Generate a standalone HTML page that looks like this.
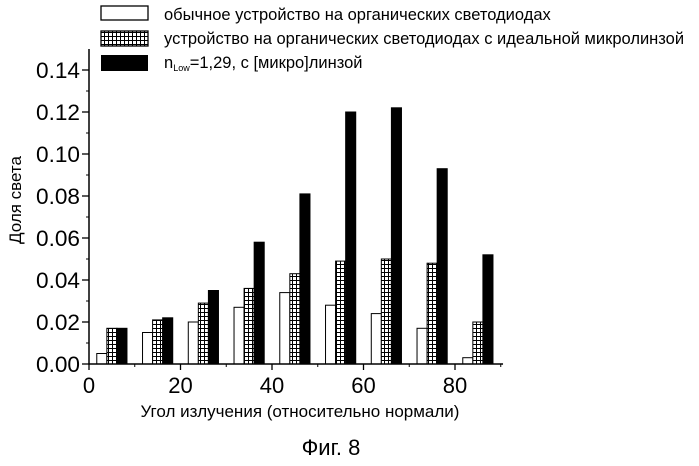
<!DOCTYPE html>
<html><head><meta charset="utf-8"><style>
body{margin:0;background:#fff;}
svg text{font-family:"Liberation Sans",sans-serif;fill:#000;}
</style></head><body>
<svg width="699" height="461" viewBox="0 0 699 461">
<defs>
<pattern id="grid" width="4" height="4" patternUnits="userSpaceOnUse">
<rect width="4" height="4" fill="#fff"/>
<path d="M0 0.5H4M0.5 0V4" stroke="#000" stroke-width="1"/>
</pattern>
</defs>
<g id="chart"></g>
<g>
<rect x="101" y="6" width="47" height="14" fill="#fff" stroke="#000" stroke-width="1.3"/>
<text x="164" y="20" font-size="16.5">обычное устройство на органических светодиодах</text>
<rect x="101" y="31" width="47" height="15" fill="url(#grid)" stroke="#000" stroke-width="1.3"/>
<text x="164" y="44" font-size="16.5">устройство на органических светодиодах с идеальной микролинзой</text>
<rect x="101" y="55" width="47" height="16" fill="#000"/>
<text x="164" y="68" font-size="16.5">n<tspan font-size="9" dy="3">Low</tspan><tspan dy="-3">=1,29, с [микро]линзой</tspan></text>
</g>
<text transform="translate(21,200) rotate(-90)" text-anchor="middle" font-size="17">Доля света</text>
<text x="300" y="417" text-anchor="middle" font-size="17">Угол излучения (относительно нормали)</text>
<text x="331" y="455" text-anchor="middle" font-size="22">Фиг. 8</text>
</svg>
<script>
const categories=[5,15,25,35,45,55,65,75,85];
const plainValues=[0.005,0.015,0.020,0.027,0.034,0.028,0.024,0.017,0.003];
const hatchedValues=[0.017,0.021,0.029,0.036,0.043,0.049,0.050,0.048,0.020];
const blackValues=[0.017,0.022,0.035,0.058,0.081,0.120,0.122,0.093,0.052];
const yTicks=[0,0.02,0.04,0.06,0.08,0.10,0.12,0.14];
const yTickLabels=["0.00","0.02","0.04","0.06","0.08","0.10","0.12","0.14"];
const xTicks=[0,20,40,60,80];
const xTickLabels=["0","20","40","60","80"];
const NS="http://www.w3.org/2000/svg";
const g=document.getElementById('chart');
const X0=89,XS=4.575,Y0=364,YS=2100;
const x=v=>X0+v*XS, y=v=>Y0-v*YS;
function mk(t,a){const e=document.createElementNS(NS,t);for(const k in a)e.setAttribute(k,a[k]);g.appendChild(e);return e;}
const series=[[plainValues,'#fff',-1.5,'plain'],[hatchedValues,'url(#grid)',-0.5,'hatched'],[blackValues,'#000',0.5,'black']];
const bw=2.2;
series.forEach(([vals,fill,off,nm])=>{vals.forEach((v,i)=>{
 const r=mk('rect',{x:x(categories[i]+off*bw),y:y(v),width:bw*XS,height:Y0-y(v),fill:fill,stroke:'#000','stroke-width':1});
 
 
});});
const ax=mk('path',{d:`M${X0} ${y(0.15)}V${Y0}H${x(90.5)}`,stroke:'#000','stroke-width':1.5,fill:'none'});


for(let v=0.01;v<0.15;v+=0.02){mk('line',{x1:X0-3,x2:X0,y1:y(v),y2:y(v),stroke:'#000'});}
yTicks.forEach((v,i)=>{mk('line',{x1:X0-7,x2:X0,y1:y(v),y2:y(v),stroke:'#000','stroke-width':1.3});
 const t=mk('text',{x:X0-9,y:y(v)+8,'text-anchor':'end','font-size':22,textLength:44,lengthAdjust:'spacingAndGlyphs'});t.textContent=yTickLabels[i];
 
 });
for(let v=10;v<=90;v+=20){mk('line',{x1:x(v),x2:x(v),y1:Y0,y2:Y0+3,stroke:'#000'});}
xTicks.forEach((v,i)=>{mk('line',{x1:x(v),x2:x(v),y1:Y0,y2:Y0+6,stroke:'#000','stroke-width':1.3});
 const t=mk('text',{x:x(v),y:Y0+29,'text-anchor':'middle','font-size':22});t.textContent=xTickLabels[i];
 
 });
</script>
</body></html>
